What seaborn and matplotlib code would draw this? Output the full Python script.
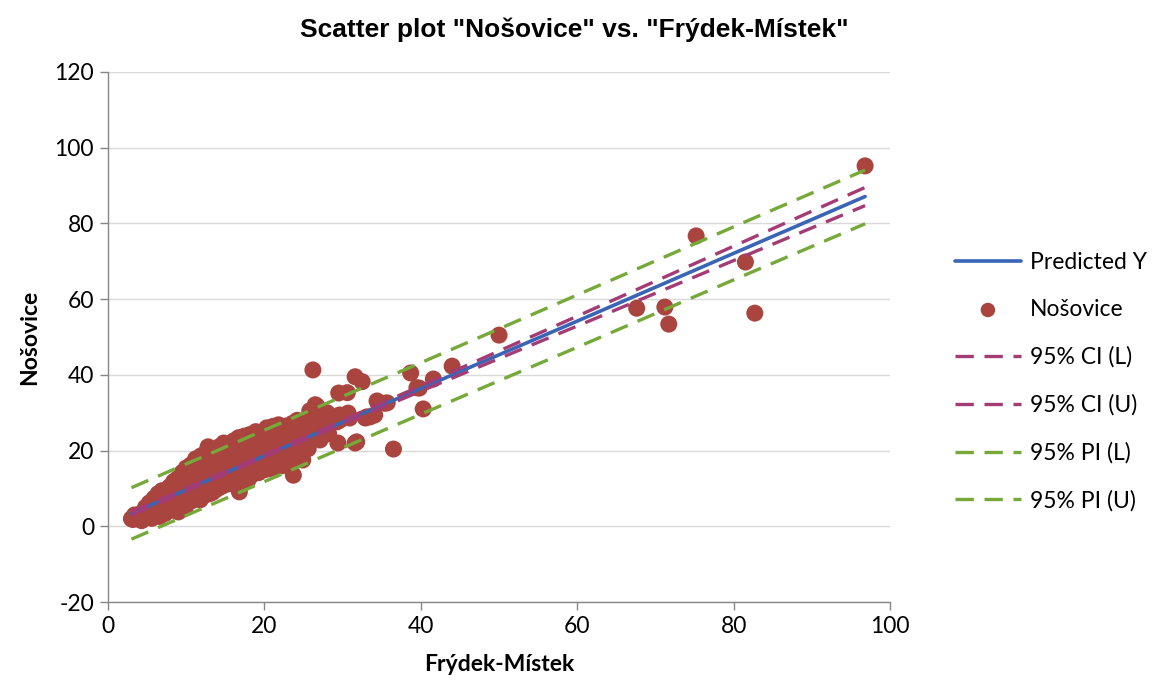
import numpy as np
import matplotlib
matplotlib.use("Agg")
import matplotlib.pyplot as plt
import seaborn as sns
import pandas as pd

frydek = [
    3.0, 3.2, 3.5, 3.8, 4.0, 4.3, 4.5, 4.7, 5.0, 5.2, 5.4, 5.6, 5.8, 6.0, 6.1,
    6.3, 6.5, 6.6, 6.8, 7.0, 7.1, 7.3, 7.5, 7.6, 7.8, 8.0, 8.1, 8.3, 8.5, 8.6, 8.8, 9.0, 9.1, 9.3,
    9.4, 9.6, 9.8, 9.9, 10.1, 10.2, 10.4, 10.5, 10.7, 10.8, 11.0, 11.1, 11.3, 11.5, 11.6, 11.8, 12.0, 12.1,
    12.3, 12.5, 12.6, 12.8, 12.9, 13.1, 13.3, 13.4, 13.6, 13.8, 14.0, 14.1, 14.3, 14.5, 14.7, 14.9, 15.0, 15.1,
    15.3, 15.5, 15.6, 15.8, 16.0, 16.2, 16.4, 16.6, 16.8, 16.9, 17.1, 17.3, 17.5, 17.7, 17.9, 18.0, 18.2,
    18.4, 18.6, 18.8, 19.0, 19.2, 19.4, 19.6, 19.8, 20.0, 20.2, 20.4, 20.6, 20.8, 21.0, 21.2, 21.5,
    21.6, 21.8, 22.0, 22.2, 22.4, 22.6, 22.9, 23.1, 23.3, 23.5, 23.7, 24.0, 24.3, 24.6, 24.9, 25.2, 25.4,
    24.5, 26.1, 26.2, 26.5, 26.7, 26.9, 27.1, 27.4, 27.5, 27.8, 28.2, 29.3, 29.4, 29.5, 29.6, 29.7,
    30.6, 30.7, 30.9, 31.6, 31.6, 31.8, 32.5, 32.9, 33.1, 33.5, 34.1, 34.4, 35.4, 35.7, 36.5,
    38.7, 39.5, 39.8, 40.3, 41.6, 44.0, 50.0, 67.6, 71.2, 71.7, 75.2, 81.5, 82.7, 96.8,
    3.4, 4.1, 4.8, 5.3, 5.9, 6.4, 6.9, 7.4, 7.9, 8.4, 8.9, 9.5, 10.0, 10.6, 11.2, 11.9, 12.4, 13.0,
    13.5, 14.2, 14.8, 15.4, 16.1, 16.7, 17.4, 18.1, 18.9, 19.5, 20.3, 21.1, 21.9, 22.8, 23.6, 24.2, 25.0, 25.8,
    8.7, 9.7, 10.3, 11.4, 12.2, 13.0, 13.9, 14.6, 15.4, 16.2, 17.0, 18.3, 19.3, 20.1, 21.3, 22.3, 23.0, 24.4, 25.6,
    9.2, 10.9, 12.7, 13.7, 15.2, 16.5, 17.8, 19.1, 20.5, 21.7, 22.7, 23.8, 24.8, 26.0, 26.4, 27.0, 28.0, 28.6,
]
nosovice = [
    2.0, 1.8, 2.6, 2.2, 3.1, 1.5, 3.8, 2.4, 4.6, 3.0, 5.5, 2.1, 4.2, 6.3, 3.5,
    5.1, 7.2, 2.6, 4.6, 8.2, 6.0, 3.4, 9.0, 5.4, 7.1, 4.2, 8.8, 6.5, 10.1, 5.0, 7.8, 3.8, 9.6, 11.5,
    6.2, 8.4, 13.8, 5.1, 10.2, 7.3, 12.1, 9.0, 14.6, 6.8, 11.3, 8.2, 13.0, 16.4, 9.7, 7.0, 12.4, 14.9,
    10.5, 8.4, 16.2, 21.0, 13.3, 11.2, 17.5, 9.0, 14.4, 12.0, 18.6, 15.3, 10.4, 13.1, 16.8, 19.8, 21.5, 11.8,
    14.6, 17.6, 12.7, 20.2, 15.5, 18.4, 13.2, 16.6, 9.1, 21.8, 19.2, 14.4, 17.1, 20.4, 12.2, 18.0, 15.6,
    21.3, 17.0, 19.5, 14.8, 22.4, 18.2, 16.0, 20.6, 23.6, 17.4, 19.9, 15.2, 22.0, 18.8, 21.0, 24.5,
    16.7, 26.8, 20.3, 22.8, 18.4, 24.2, 21.2, 16.2, 22.8, 19.6, 13.5, 23.4, 20.6, 25.2, 17.5, 22.0, 26.8,
    26.3, 29.9, 41.3, 32.1, 31.8, 29.4, 22.8, 23.7, 29.4, 26.0, 24.5, 27.6, 22.0, 35.2, 29.4, 28.1,
    35.3, 29.9, 28.6, 22.0, 39.5, 22.3, 38.2, 28.6, 28.9, 28.9, 29.4, 33.1, 32.5, 32.6, 20.4,
    40.5, 36.6, 36.5, 31.0, 38.9, 42.3, 50.5, 57.6, 57.9, 53.4, 76.7, 69.8, 56.3, 95.2,
    3.0, 2.0, 5.0, 6.2, 7.4, 8.6, 9.4, 6.8, 10.5, 11.8, 12.6, 14.2, 15.4, 16.2, 17.8, 18.6, 19.2, 20.0,
    19.5, 21.0, 22.0, 21.2, 22.6, 23.4, 23.8, 24.2, 25.0, 24.4, 26.0, 26.4, 25.6, 26.5, 27.2, 28.0, 27.6, 30.5,
    4.6, 5.8, 6.4, 7.4, 8.0, 8.6, 9.8, 10.6, 11.2, 11.9, 12.6, 13.4, 14.2, 15.0, 15.6, 16.0, 17.9, 18.8, 20.5,
    8.0, 10.6, 12.2, 15.8, 16.0, 18.8, 16.2, 20.4, 21.4, 19.0, 20.2, 21.8, 23.2, 25.4, 27.4, 28.2, 30.0, 28.0,
]

# Fitted line and 95% bands
band_x = [3.0, 20.0, 40.0, 60.0, 80.0, 96.8]
predicted = [3.4, 18.6, 36.4, 54.2, 72.1, 87.1]
ci_low = [2.9, 18.3, 35.7, 52.9, 70.2, 84.7]
ci_up = [3.9, 18.9, 37.1, 55.5, 74.0, 89.5]
pi_low = [-3.4, 11.8, 29.6, 47.3, 65.1, 79.9]
pi_up = [10.2, 25.4, 43.2, 61.1, 79.1, 94.1]

points = pd.DataFrame({"x": frydek, "y": nosovice})

sns.set_style("white")
plt.rcParams["font.family"] = ["Lato", "DejaVu Sans"]
plt.rcParams["axes.unicode_minus"] = False
plt.rcParams["text.color"] = "black"
plt.rcParams["axes.labelcolor"] = "black"

fig = plt.figure(figsize=(11.56, 6.9), dpi=100)
ax = fig.add_axes([0.0934, 0.1275, 0.6766, 0.7682])

red = "#A9443F"
blue = "#3A65B4"
purple = "#A33C74"
green = "#76A83A"
dash = (5.5, 3.2)

sns.lineplot(x=band_x, y=predicted, ax=ax, color=blue, linewidth=2.6, label="Predicted Y", zorder=4)
sns.scatterplot(data=points, x="x", y="y", ax=ax, color=red, s=150, edgecolor="none",
                label="Nošovice", zorder=3)

bands = [
    (ci_low, purple, "95% CI (L)"),
    (ci_up, purple, "95% CI (U)"),
    (pi_low, green, "95% PI (L)"),
    (pi_up, green, "95% PI (U)"),
]
for values, colour, name in bands:
    sns.lineplot(x=band_x, y=values, ax=ax, color=colour, linewidth=2.4, label=name, zorder=5)
    ax.lines[-1].set_dashes(dash)

ax.set_xlim(0, 100)
ax.set_ylim(-20, 120)
ax.set_xticks(range(0, 101, 20))
ax.set_yticks(range(-20, 121, 20))
ax.yaxis.grid(True, color="#D9D9D9", linewidth=1.0)
ax.xaxis.grid(False)
ax.set_axisbelow(True)

for side in ["top", "right"]:
    ax.spines[side].set_visible(False)
for side in ["left", "bottom"]:
    ax.spines[side].set_color("#868686")
    ax.spines[side].set_linewidth(1.0)
ax.tick_params(axis="both", direction="out", length=6, width=1.0, color="#868686",
               labelsize=16.5, labelcolor="#000000", pad=4, left=True, bottom=True)

ax.set_xlabel("Frýdek-Místek", fontsize=16.5, fontweight="bold", labelpad=12, color="black")
ax.set_ylabel("Nošovice", fontsize=16.5, fontweight="bold", labelpad=10, color="black")

fig.text(0.4965, 1 - 30 / 690, 'Scatter plot "Nošovice" vs. "Frýdek-Místek"',
         ha="center", va="center", fontsize=19, fontweight="bold", color="black",
         family=["Liberation Sans", "DejaVu Sans"])

handles, labels = ax.get_legend_handles_labels()
ax.get_legend().remove()
leg = fig.legend(handles, labels, loc="center left", bbox_to_anchor=(0.808, 0.447),
                 frameon=False, fontsize=16.5, handlelength=2.9, handletextpad=0.4,
                 labelspacing=1.15, markerscale=0.85)
for text in leg.get_texts():
    text.set_color("black")

fig.savefig("out.png", dpi=100)
